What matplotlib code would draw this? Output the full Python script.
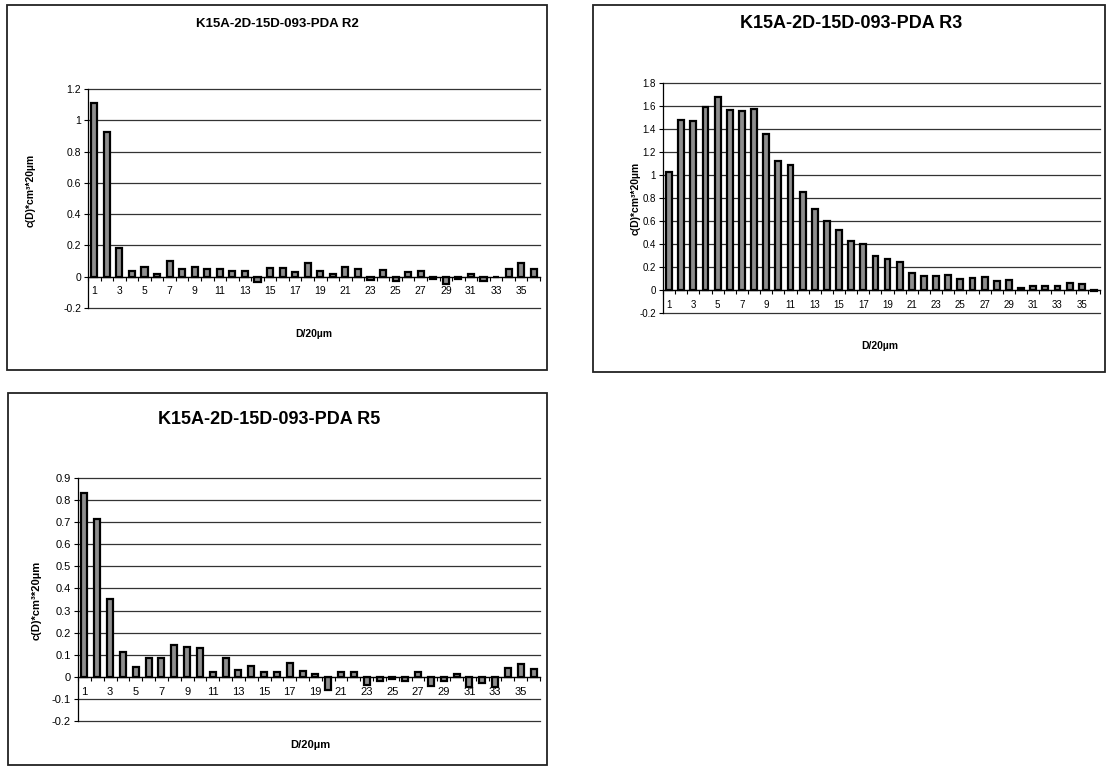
import numpy as np
import matplotlib
matplotlib.use("Agg")
import matplotlib.pyplot as plt
from matplotlib.patches import Rectangle
from matplotlib.ticker import FuncFormatter, FixedLocator

plt.rcParams["font.family"] = ["Liberation Sans", "DejaVu Sans"]

# ===============================
# DATA
# ===============================
classes = np.arange(1, 37)
xtick_labels = [str(i) for i in range(1, 37, 2)]

r2_values = [1.11, 0.925, 0.186, 0.038, 0.06, 0.02, 0.10, 0.05, 0.064, 0.049,
             0.05, 0.034, 0.034, -0.032, 0.053, 0.053, 0.03, 0.085, 0.038, 0.015,
             0.064, 0.05, -0.02, 0.043, -0.025, 0.032, 0.038, -0.013, -0.047, -0.013,
             0.017, -0.025, 0.0, 0.05, 0.09, 0.05]

r3_values = [1.025, 1.476, 1.47, 1.593, 1.682, 1.563, 1.554, 1.576, 1.357, 1.123,
             1.086, 0.855, 0.702, 0.604, 0.524, 0.429, 0.404, 0.292, 0.27, 0.24,
             0.148, 0.12, 0.125, 0.134, 0.097, 0.103, 0.109, 0.078, 0.086, 0.014,
             0.031, 0.033, 0.033, 0.058, 0.053, -0.01]

r5_values = [0.834, 0.714, 0.352, 0.113, 0.045, 0.083, 0.086, 0.145, 0.136, 0.131,
             0.02, 0.083, 0.029, 0.051, 0.024, 0.021, 0.063, 0.026, 0.015, -0.06,
             0.02, 0.02, -0.035, -0.018, -0.01, -0.017, 0.024, -0.04, -0.021, 0.012,
             -0.045, -0.03, -0.045, 0.038, 0.06, 0.036]

W, H = 1114, 771


def px_rect(left, top, right, bottom):
    return [left / W, 1 - bottom / H, (right - left) / W, (bottom - top) / H]


def fig_xy(x, y):
    return x / W, 1 - y / H


fig = plt.figure(figsize=(W / 100, H / 100), dpi=100)
fig.patch.set_facecolor("white")


def draw_chart(values, frame, plot, ylim, ystep, title, title_pos, title_size,
               xlabel_pos, ylabel_pos, tick_size, label_size):
    # outer chart frame
    fl, ft, fr, fb = frame
    fx0, fy0 = fig_xy(fl, fb)
    fig.patches.append(Rectangle((fx0, fy0), (fr - fl) / W, (fb - ft) / H,
                                 transform=fig.transFigure, fill=False,
                                 edgecolor="#222222", linewidth=1.3))

    ax = fig.add_axes(px_rect(*plot))
    ax.bar(classes, values, width=0.48, color="#8e8e8e",
           edgecolor="black", linewidth=1.6, zorder=3)

    ax.set_xlim(0.5, 36.5)
    ax.set_ylim(*ylim)
    yt = np.round(np.arange(ylim[0], ylim[1] + ystep / 2, ystep), 3)
    ax.set_yticks(yt)
    ax.yaxis.set_major_formatter(FuncFormatter(lambda v, p: "%g" % round(v, 3)))
    ax.grid(axis="y", color="#333333", linewidth=0.9, zorder=0)
    ax.set_axisbelow(True)
    for gl in ax.get_ygridlines():
        gl.set_clip_on(False)

    for s in ["top", "right"]:
        ax.spines[s].set_visible(False)
    ax.spines["bottom"].set_position(("data", 0))
    ax.spines["bottom"].set_zorder(4)
    ax.spines["bottom"].set_linewidth(0.9)
    ax.spines["left"].set_linewidth(0.9)

    ax.xaxis.set_major_locator(FixedLocator(list(range(1, 37, 2))))
    ax.set_xticklabels(xtick_labels)
    ax.xaxis.set_minor_locator(FixedLocator(list(np.arange(0.5, 37, 1.0))))
    ax.tick_params(axis="x", which="major", length=0, pad=7, labelsize=tick_size)
    ax.tick_params(axis="x", which="minor", length=3, width=0.8, direction="out")
    ax.tick_params(axis="y", length=3, width=0.8, pad=2, labelsize=tick_size)

    tx, ty = fig_xy(*title_pos)
    fig.text(tx, ty, title, ha="center", va="center", fontsize=title_size,
             fontweight="bold")
    lx, ly = fig_xy(*xlabel_pos)
    fig.text(lx, ly, "D/20µm", ha="center", va="center", fontsize=label_size,
             fontweight="bold")
    yx, yy = fig_xy(*ylabel_pos)
    fig.text(yx, yy, "c(D)*cm³*20µm", ha="center", va="center",
             fontsize=label_size, fontweight="bold", rotation=90)
    return ax


# ===============================
# R2
# ===============================
draw_chart(r2_values, frame=(7, 5, 547, 370), plot=(88, 89, 540, 308),
           ylim=(-0.2, 1.2), ystep=0.2, title="K15A-2D-15D-093-PDA R2",
           title_pos=(277, 24), title_size=9.5, xlabel_pos=(314, 334),
           ylabel_pos=(31, 190), tick_size=7.5, label_size=7.5)

# ===============================
# R3
# ===============================
draw_chart(r3_values, frame=(593, 5, 1105, 372), plot=(663, 83, 1100, 313),
           ylim=(-0.2, 1.8), ystep=0.2, title="K15A-2D-15D-093-PDA R3",
           title_pos=(851, 24), title_size=13, xlabel_pos=(880, 346),
           ylabel_pos=(636, 198), tick_size=7, label_size=7.5)

# ===============================
# R5
# ===============================
draw_chart(r5_values, frame=(8, 393, 547, 765), plot=(78, 478, 540, 721),
           ylim=(-0.2, 0.9), ystep=0.1, title="K15A-2D-15D-093-PDA R5",
           title_pos=(269, 420), title_size=13, xlabel_pos=(310, 745),
           ylabel_pos=(37, 600), tick_size=8, label_size=8)

fig.savefig("out.png", dpi=100)
plt.close(fig)
